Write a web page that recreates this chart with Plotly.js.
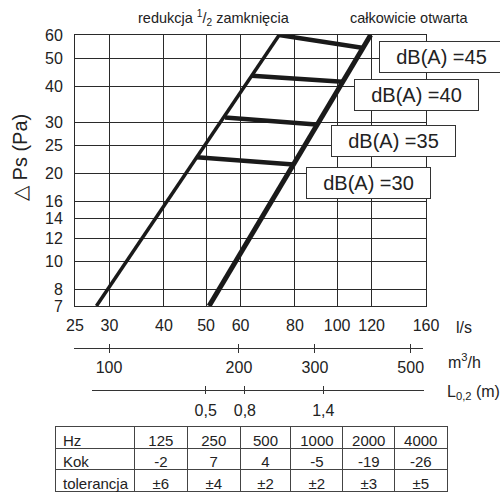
<!DOCTYPE html>
<html>
<head>
<meta charset="utf-8">
<script src="https://cdn.plot.ly/plotly-3.0.1.min.js"></script>
<style>html,body{margin:0;padding:0;background:#fff}#chart{width:500px;height:495px}</style>
</head>
<body>
<div id="chart"></div>
<script>
// ---- data ----
const flowTicks = [25, 30, 40, 50, 60, 80, 100, 120, 160];           // l/s
const pressTicks = [7, 8, 10, 12, 14, 16, 20, 25, 30, 40, 50, 60];   // Pa
const m3hTicks = [100, 200, 300, 500];                               // m3/h
const throwTicks = [0.5, 0.8, 1.4];                                  // L0,2 (m)
const throwTickText = ['0,5', '0,8', '1,4'];

const halfQ = [28.0, 73.6];     // redukcja 1/2 zamknięcia
const halfP = [7, 60];
const openQ = [50.8, 119.4];    // całkowicie otwarta
const openP = [7, 60];

const levelNames = ['dB(A) =30', 'dB(A) =35', 'dB(A) =40', 'dB(A) =45'];
const levelStartQ = [47.6, 55.3, 63.7, 73.6];
const levelStartP = [22.75, 31.2, 43.4, 60];
const levelEndQ = [79.4, 89.5, 102.8, 114.0];
const levelEndP = [21.5, 29.5, 41.4, 54.2];

const tableHz = [125, 250, 500, 1000, 2000, 4000];
const tableKok = [-2, 7, 4, -5, -19, -26];
const tableTol = ['±6', '±4', '±2', '±2', '±3', '±5'];

// ---- helpers ----
const W = 500, H = 495;
const px = v => v / W;
const py = v => 1 - v / H;
const FONT = 'Liberation Sans, Arial, sans-serif';
const TXT = '#222';

const traces = [];
traces.push({x: halfQ, y: halfP, mode: 'lines', line: {color: '#1a1a1a', width: 3.5}, hoverinfo: 'skip', showlegend: false});
traces.push({x: openQ, y: openP, mode: 'lines', line: {color: '#1a1a1a', width: 5}, hoverinfo: 'skip', showlegend: false});
for (let i = 0; i < levelNames.length; i++) {
  traces.push({x: [levelStartQ[i], levelEndQ[i]], y: [levelStartP[i], levelEndP[i]], mode: 'lines',
    line: {color: '#1a1a1a', width: 4.5}, hoverinfo: 'skip', showlegend: false, name: levelNames[i]});
}
// anchors for secondary scales
const dummy = (xs, ax) => ({x: xs, y: xs.map(() => 0.5), xaxis: ax, yaxis: 'y2', mode: 'markers',
  marker: {opacity: 0, size: 1}, hoverinfo: 'skip', showlegend: false});
traces.push(dummy(m3hTicks, 'x2'));
traces.push(dummy(m3hTicks, 'x3'));
traces.push(dummy(throwTicks, 'x4'));
traces.push(dummy(throwTicks, 'x5'));

// table
traces.push({
  type: 'table',
  domain: {x: [px(55), px(447)], y: [0, py(426.5)]},
  columnwidth: [79.3, 53, 52.7, 50.7, 52, 51.6, 52.4],
  header: {
    values: ['Hz'].concat(tableHz.map(String)),
    align: ['left', 'center'],
    height: 21.7,
    line: {color: '#444', width: 1},
    fill: {color: '#fff'},
    font: {family: FONT, size: 15, color: TXT}
  },
  cells: {
    values: [['Kok', 'tolerancja']].concat(tableHz.map((h, i) => [String(tableKok[i]), tableTol[i]])),
    align: ['left', 'center'],
    height: 21.7,
    line: {color: '#444', width: 1},
    fill: {color: '#fff'},
    font: {family: FONT, size: 15, color: TXT}
  }
});

const secAxis = (extra) => Object.assign({
  anchor: 'free', showgrid: false, zeroline: false, showline: true, linecolor: '#333', linewidth: 1,
  tickcolor: '#333', tickwidth: 1, fixedrange: true,
  tickfont: {family: FONT, size: 16, color: TXT}
}, extra);

const ann = (text, x, y, size, extra) => Object.assign({
  text: text, x: px(x), y: py(y), xref: 'paper', yref: 'paper', xanchor: 'center', yanchor: 'middle',
  showarrow: false, font: {family: FONT, size: size, color: TXT}
}, extra || {});

const annotations = [
  ann('redukcja <sup>1</sup>/<sub>2</sub> zamknięcia', 214, 18, 14.5),
  ann('całkowicie otwarta', 409, 18, 14.5),
  ann('△ Ps (Pa)', 20, 158, 20, {textangle: -90}),
  ann('l/s', 464, 327, 16),
  ann('m<sup>3</sup>/h', 446, 361, 16, {xanchor: 'left'}),
  ann('L<sub>0,2</sub> (m)', 445, 392, 16, {xanchor: 'left'})
];
const boxCenters = [[368, 183], [393.5, 141.2], [416.7, 95.2], [441, 57.2]];
levelNames.forEach((t, i) => {
  annotations.push(ann(t, boxCenters[i][0], boxCenters[i][1], 20,
    {width: 121, height: 28, borderpad: 1, bordercolor: '#333', borderwidth: 1, bgcolor: '#fff'}));
});

const layout = {
  width: W, height: H,
  margin: {l: 0, r: 0, t: 0, b: 0},
  paper_bgcolor: '#fff', plot_bgcolor: 'rgba(0,0,0,0)',
  showlegend: false,
  xaxis: {
    type: 'log', range: [Math.log10(25), Math.log10(160)], domain: [px(75), px(426)],
    tickvals: flowTicks, ticktext: flowTicks.map(String), ticks: '', ticklabelstandoff: 5,
    showgrid: true, gridcolor: '#2a2a2a', gridwidth: 1, showline: true, mirror: true, linecolor: '#2a2a2a', linewidth: 1,
    zeroline: false, fixedrange: true, tickfont: {family: FONT, size: 16, color: TXT}
  },
  yaxis: {
    type: 'log', range: [Math.log10(7), Math.log10(60)], domain: [py(306), py(35)],
    tickvals: pressTicks, ticktext: pressTicks.map(String), ticks: '', ticklabelstandoff: 8,
    showgrid: true, gridcolor: '#2a2a2a', gridwidth: 1, showline: true, mirror: true, linecolor: '#2a2a2a', linewidth: 1,
    zeroline: false, fixedrange: true, tickfont: {family: FONT, size: 16, color: TXT}
  },
  yaxis2: {domain: [0.25, 0.3], range: [0, 1], visible: false, fixedrange: true},
  xaxis2: secAxis({type: 'log', range: [1.9189, 2.7275], domain: [px(74), px(423)], position: py(348),
    tickvals: m3hTicks, ticktext: m3hTicks.map(String), ticks: 'outside', ticklen: 4, ticklabelstandoff: 1}),
  xaxis3: secAxis({type: 'log', range: [1.9189, 2.7275], domain: [px(74), px(423)], position: py(348),
    tickvals: m3hTicks, ticks: 'inside', ticklen: 4, showticklabels: false}),
  xaxis4: secAxis({type: 'linear', range: [-0.372, 2.173], domain: [px(91.7), px(424.3)], position: py(390),
    tickvals: throwTicks, ticktext: throwTickText, ticks: 'outside', ticklen: 3, ticklabelstandoff: 3}),
  xaxis5: secAxis({type: 'linear', range: [-0.372, 2.173], domain: [px(91.7), px(424.3)], position: py(390),
    tickvals: throwTicks, ticks: 'inside', ticklen: 4, showticklabels: false}),
  annotations: annotations
};

Plotly.newPlot('chart', traces, layout, {displayModeBar: false, staticPlot: true});
</script>
</body>
</html>
